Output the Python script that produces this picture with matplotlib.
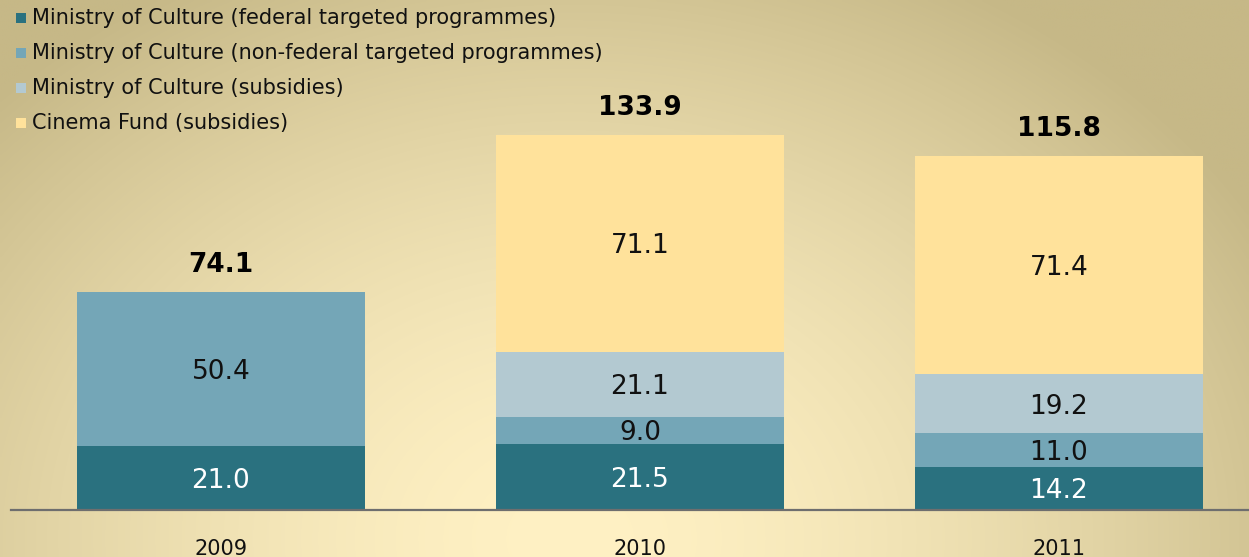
import numpy as np
import matplotlib
matplotlib.use("Agg")
import matplotlib.pyplot as plt
from matplotlib.patches import Rectangle

years = ["2009", "2010", "2011"]
series_names = [
    "Ministry of Culture (federal targeted programmes)",
    "Ministry of Culture (non-federal targeted programmes)",
    "Ministry of Culture (subsidies)",
    "Cinema Fund (subsidies)",
]
federal = [21.0, 21.5, 14.2]
non_federal = [50.4, 9.0, 11.0]
subsidies = [0.0, 21.1, 19.2]
cinema_fund = [0.0, 71.1, 71.4]
totals = [74.1, 133.9, 115.8]

colors = ["#2A717F", "#74A6B7", "#B3C9D1", "#FFE29B"]
label_colors = ["white", "#111111", "#111111", "#111111"]

W, H = 1249, 557
fig = plt.figure(figsize=(W / 100, H / 100), dpi=100)

# background radial gradient
bg = fig.add_axes([0, 0, 1, 1], zorder=-10)
xs = np.linspace(0, W, 400)
ys = np.linspace(0, H, 200)
X, Y = np.meshgrid(xs, ys)
cx, cy, rx, ry = 570, 540, 800, 640
d = np.clip(np.sqrt(((X - cx) / rx) ** 2 + ((Y - cy) / ry) ** 2), 0, 1)
light = np.array([255, 241, 196]) / 255
dark = np.array([198, 184, 135]) / 255
img = light[None, None, :] + (dark - light)[None, None, :] * (d ** 1.6)[:, :, None]
bg.imshow(img, extent=[0, W, H, 0], aspect="auto", interpolation="bilinear")
bg.set_xlim(0, W)
bg.set_ylim(H, 0)
bg.axis("off")

# main axes
left_px, base_px = 11, 510
ax = fig.add_axes([left_px / W, (H - base_px) / H, (W - left_px) / W, base_px / H])
ax.patch.set_alpha(0)
x = np.arange(len(years))
width = 0.687
stack = [federal, non_federal, subsidies, cinema_fund]
bottom = np.zeros(len(years))
for vals, col, lc in zip(stack, colors, label_colors):
    vals = np.array(vals)
    ax.bar(x, vals, width, bottom=bottom, color=col, edgecolor="none", zorder=2)
    for xi, b, v in zip(x, bottom, vals):
        if v > 0:
            ax.text(xi, b + v / 2, f"{v:.1f}", ha="center", va="center_baseline",
                    fontsize=19, color=lc, zorder=3)
    bottom = bottom + vals

for xi, top, t in zip(x, bottom, totals):
    ax.annotate(f"{t:.1f}", (xi, top), xytext=(0, 10), textcoords="offset points",
                ha="center", va="bottom", fontsize=19, fontweight="bold", color="black")

px_per_unit = 3.06
ax.set_xlim(-210 / 419, -210 / 419 + (W - left_px) / 419)
ax.set_ylim(0, base_px / px_per_unit)
for s in ["top", "right", "left"]:
    ax.spines[s].set_visible(False)
ax.spines["bottom"].set_color("#6E6E6E")
ax.spines["bottom"].set_linewidth(1.6)
ax.set_yticks([])
ax.set_xticks(x)
ax.set_xticklabels(years, fontsize=15, color="#111111")
ax.tick_params(axis="x", length=0, pad=21)

# legend (manual)
leg_y = [18, 53, 88, 123]
for name, col, yy in zip(series_names, colors, leg_y):
    fig.patches.append(Rectangle((16 / W, 1 - (yy + 5) / H), 10 / W, 10 / H,
                                 transform=fig.transFigure, facecolor=col,
                                 edgecolor="none", figure=fig))
    fig.text(32 / W, 1 - yy / H, name, ha="left", va="center", fontsize=15,
             color="#111111")

fig.savefig("out.png", dpi=100)
